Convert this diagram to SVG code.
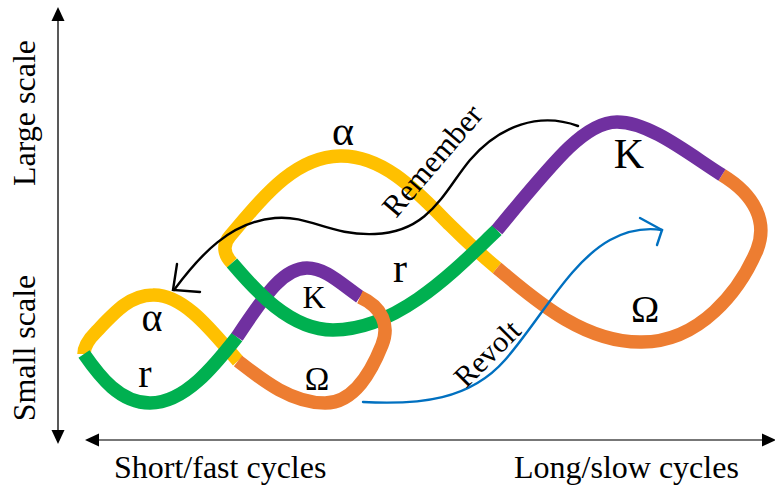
<svg xmlns="http://www.w3.org/2000/svg" width="775" height="488" viewBox="0 0 775 488">
  <defs>
    <style>
      .seg { fill: none; stroke-width: 13.5; stroke-linecap: butt; stroke-linejoin: round; }
      .alpha { stroke: #FFC000; }
      .r { stroke: #00B050; }
      .k { stroke: #7030A0; }
      .omega { stroke: #ED7D31; }
      .lbl { font-family: "Liberation Serif", "Times New Roman", serif; fill: #000; }
      .axis-txt { font-family: "Liberation Serif", "Times New Roman", serif; font-size: 32px; fill: #000; }
      .link { fill: none; stroke-width: 2.4; stroke-linecap: round; stroke-linejoin: miter; }
    </style>
  </defs>
  <rect width="775" height="488" fill="#fff"/>

  <!-- axes -->
  <g id="axes">
    <line x1="58" y1="19" x2="58" y2="432" stroke="#222" stroke-width="1.5"/>
    <polygon points="58,7 51.5,21 64.5,21" fill="#000"/>
    <polygon points="58,444 51.5,430 64.5,430" fill="#000"/>
    <line x1="97" y1="440" x2="765" y2="440" stroke="#777" stroke-width="2"/>
    <polygon points="85,440 99,433.5 99,446.5" fill="#000"/>
    <polygon points="776,440 762,433.5 762,446.5" fill="#000"/>
    <text class="axis-txt" transform="translate(35,113) rotate(-90)" text-anchor="middle">Large scale</text>
    <text class="axis-txt" transform="translate(35,348) rotate(-90)" text-anchor="middle">Small scale</text>
    <text class="axis-txt" x="114" y="478">Short/fast cycles</text>
    <text class="axis-txt" x="514" y="478">Long/slow cycles</text>
  </g>

  <!-- large, slow adaptive cycle (lower layers) -->
  <g id="cycle-large-back">
    <path class="seg alpha" d="M232,263 C224,255 222,245 230,236 C265,195 295,157 340,156 C385,155 420,195 450,225 C470,245 485,258 497,268"/>
    <path class="seg omega" d="M497,268 C530,295 580,342 640,342 C700,343 740,290 757,250 C768,222 755,195 722,175"/>
  </g>

  <!-- small, fast adaptive cycle (lower layers) -->
  <g id="cycle-small-back">
    <path class="seg alpha" d="M84,354 C84,346 90,338 96,332 C115,312 130,295 153,295 C185,294 215,335 238,361"/>
    <path class="seg r" d="M237,337 C215,365 185,403 150,403 C120,403 100,377 84,354"/>
    <path class="seg k" d="M360,297 C340,283 325,268 307,268 C285,268 268,290 237,337"/>
  </g>

  <!-- large cycle: r and K phases -->
  <g id="cycle-large-front">
    <path class="seg r" d="M497,230 C460,265 400,330 333,330 C290,330 255,290 232,263"/>
    <path class="seg k" d="M722,175 C690,155 650,122 617,122 C585,122 555,160 497,230"/>
  </g>

  <!-- small cycle: Ω phase on top -->
  <g id="cycle-small-front">
    <path class="seg omega" d="M238,361 C260,378 290,403 325,403 C355,403 372,370 382,345 C390,325 382,307 360,297"/>
  </g>

  <!-- phase labels -->
  <g id="labels-large">
    <text class="lbl" x="343" y="145" font-size="42" text-anchor="middle">α</text>
    <text class="lbl" x="400" y="282" font-size="42" text-anchor="middle">r</text>
    <text class="lbl" x="629" y="168" font-size="42" text-anchor="middle">K</text>
    <text class="lbl" x="645" y="322" font-size="38" text-anchor="middle">Ω</text>
  </g>
  <g id="labels-small">
    <text class="lbl" x="152" y="331" font-size="40" text-anchor="middle">α</text>
    <text class="lbl" x="145" y="387" font-size="40" text-anchor="middle">r</text>
    <text class="lbl" x="314" y="308" font-size="32" text-anchor="middle">K</text>
    <text class="lbl" x="317" y="390" font-size="33" text-anchor="middle">Ω</text>
  </g>

  <!-- cross-scale connectors -->
  <g id="connectors">
    <g id="remember">
      <path class="link" stroke="#000" d="M578,126 C540,112 500,125 470,160 C445,190 430,232 375,234 C330,236 310,215 275,218 C230,222 200,255 174,290"/>
      <polyline class="link" stroke="#000" points="177,264 173,290 200,292"/>
      <text class="lbl" font-size="31" transform="translate(396,219) rotate(-49.5)">Remember</text>
    </g>
    <g id="revolt">
      <path class="link" stroke="#0070C0" d="M363,402 C420,405 470,400 505,360 C540,320 570,262 610,240 C630,229 648,228 662,230"/>
      <polyline class="link" stroke="#0070C0" points="640,218 662,230 657,245"/>
      <text class="lbl" font-size="30" transform="translate(466,389) rotate(-45)">Revolt</text>
    </g>
  </g>
</svg>
